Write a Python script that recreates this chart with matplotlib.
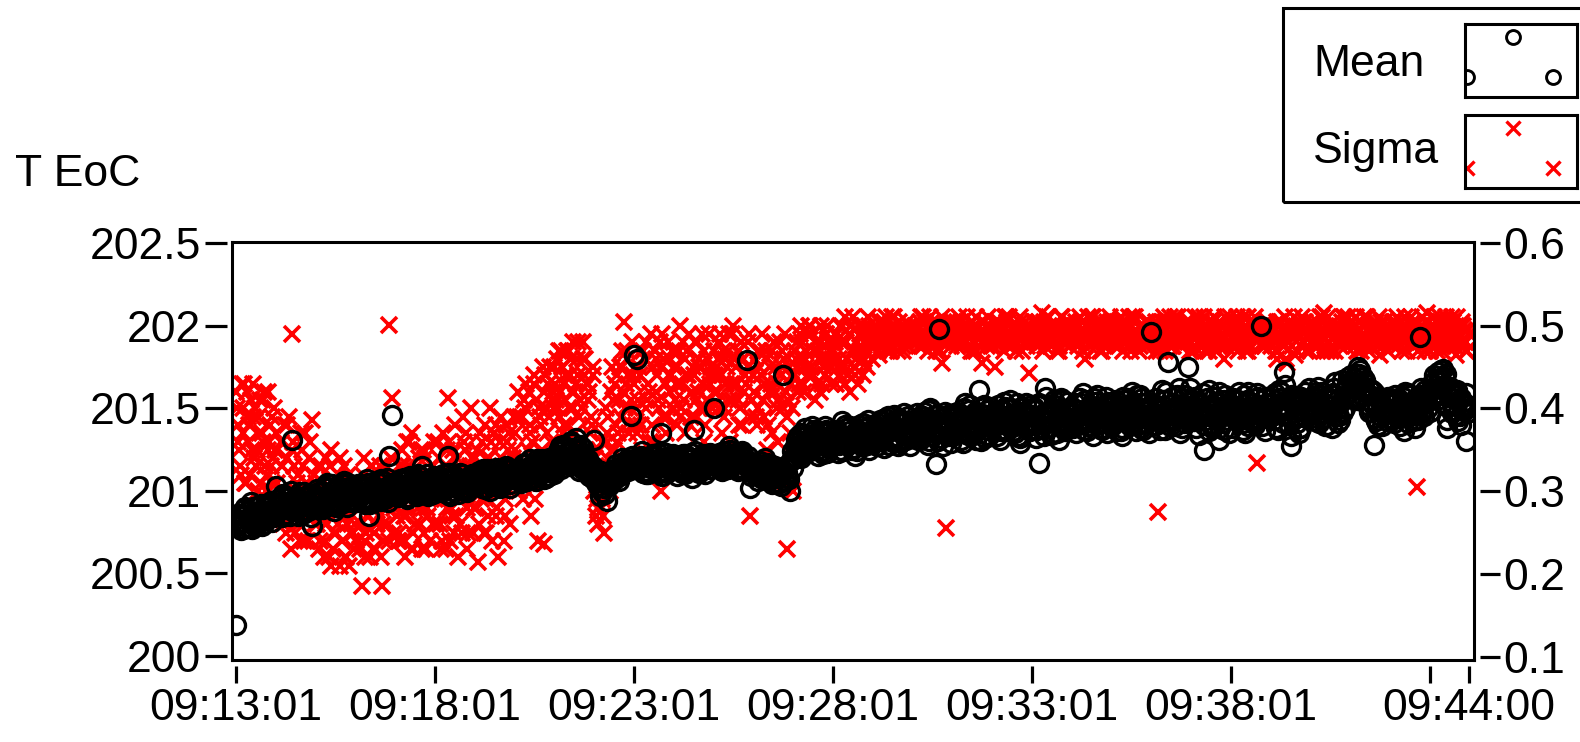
import numpy as np
import matplotlib
matplotlib.use("Agg")
import matplotlib.pyplot as plt
from matplotlib import font_manager
from matplotlib.patches import Rectangle

# ---------------- data ----------------
# One reading every 1.25 s starting at 09:13:01, stored as four interleaved
# lists: "_a" at 0, 5, 10 ... s, "_c" at 1.25, 6.25 ... s,
# "_b" at 2.5, 7.5 ... s and "_d" at 3.75, 8.75 ... s.
sample_step_s = 5
offsets_s = {"a": 0.0, "c": 1.25, "b": 2.5, "d": 3.75}

mean_T_a = [
    200.19, 200.80, 200.86, 200.78, 200.84, 200.90, 200.81, 200.87, 200.83, 200.91, 200.85, 200.89,
    201.03, 200.88, 200.94, 200.86, 200.92, 201.31, 200.89, 200.95, 200.90, 200.97, 200.93, 200.79,
    200.96, 200.91, 201.00, 200.94, 200.98, 201.04, 200.92, 200.99, 200.95, 201.02, 200.97, 200.93,
    201.00, 200.96, 201.03, 200.94, 200.85, 201.01, 200.97, 201.05, 200.99, 200.95, 201.21, 201.46,
    201.02, 200.98, 201.06, 201.00, 200.96, 201.04, 201.08, 200.99, 201.15, 201.03, 200.97, 201.05,
    201.01, 201.07, 200.99, 201.05, 201.21, 201.03, 201.09, 200.98, 201.06, 201.02, 201.08, 201.04,
    201.10, 201.04, 201.07, 201.01, 201.11, 201.05, 201.09, 201.03, 201.12, 201.06, 201.08, 201.13,
    201.07, 201.11, 201.05, 201.13, 201.09, 201.15, 201.08, 201.14, 201.10, 201.17, 201.12, 201.16,
    201.18, 201.24, 201.13, 201.27, 201.20, 201.30, 201.16, 201.25, 201.21, 201.14, 201.19, 201.11,
    201.31, 201.06, 201.12, 201.02, 200.94, 201.08, 201.13, 201.10, 201.17, 201.14, 201.19, 201.45,
    201.82, 201.80, 201.15, 201.20, 201.12, 201.18, 201.22, 201.14, 201.35, 201.17, 201.11, 201.21,
    201.16, 201.09, 201.19, 201.13, 201.21, 201.15, 201.37, 201.18, 201.12, 201.20, 201.16, 201.23,
    201.50, 201.17, 201.22, 201.14, 201.19, 201.25, 201.16, 201.21, 201.18, 201.13, 201.79, 201.02,
    201.15, 201.10, 201.18, 201.07, 201.13, 201.16, 201.09, 201.12, 201.05, 201.70, 201.11, 201.00,
    201.14, 201.22, 201.30, 201.26, 201.34, 201.24, 201.31, 201.28, 201.36, 201.22, 201.29, 201.33,
    201.27, 201.35, 201.30, 201.24, 201.38, 201.32, 201.26, 201.36, 201.29, 201.41, 201.31, 201.25,
    201.34, 201.39, 201.30, 201.42, 201.35, 201.28, 201.40, 201.33, 201.44, 201.37, 201.31, 201.38,
    201.36, 201.42, 201.33, 201.45, 201.39, 201.30, 201.43, 201.16, 201.98, 201.37, 201.41, 201.34,
    201.44, 201.38, 201.47, 201.35, 201.42, 201.49, 201.36, 201.43, 201.61, 201.39, 201.46, 201.33,
    201.41, 201.48, 201.37, 201.44, 201.51, 201.40, 201.46, 201.35, 201.43, 201.50, 201.38, 201.45,
    201.42, 201.49, 201.17, 201.44, 201.62, 201.38, 201.47, 201.52, 201.41, 201.46, 201.36, 201.50,
    201.44, 201.53, 201.40, 201.47, 201.55, 201.39, 201.48, 201.43, 201.51, 201.37, 201.46, 201.54,
    201.45, 201.41, 201.52, 201.38, 201.49, 201.56, 201.43, 201.47, 201.40, 201.53, 201.46, 201.50,
    201.96, 201.44, 201.51, 201.41, 201.55, 201.78, 201.47, 201.39, 201.52, 201.45, 201.58, 201.75,
    201.49, 201.42, 201.54, 201.46, 201.25, 201.51, 201.40, 201.57, 201.44, 201.50, 201.37, 201.53,
    201.47, 201.55, 201.42, 201.50, 201.58, 201.39, 201.48, 201.53, 201.44, 202.00, 201.51, 201.46,
    201.56, 201.43, 201.49, 201.60, 201.72, 201.45, 201.27, 201.52, 201.41, 201.57, 201.48, 201.54,
    201.44, 201.51, 201.58, 201.46, 201.53, 201.40, 201.55, 201.62, 201.49, 201.43, 201.57, 201.65,
    201.60, 201.68, 201.55, 201.73, 201.63, 201.52, 201.58, 201.28, 201.50, 201.45, 201.56, 201.42,
    201.53, 201.47, 201.55, 201.39, 201.51, 201.44, 201.58, 201.49, 201.46, 201.93, 201.52, 201.57,
    201.48, 201.61, 201.55, 201.66, 201.74, 201.38, 201.63, 201.52, 201.58, 201.45, 201.54, 201.30,
]

mean_T_b = [
    200.83, 200.76, 200.89, 200.82, 200.93, 200.79, 200.86, 200.92, 200.80, 200.88, 200.94, 200.84,
    200.91, 200.97, 200.85, 200.93, 201.00, 200.88, 200.96, 200.87, 200.99, 200.91, 200.84, 200.95,
    201.01, 200.90, 200.97, 201.05, 200.93, 200.88, 201.03, 200.96, 201.06, 200.90, 201.00, 200.97,
    200.93, 201.04, 200.98, 201.07, 200.92, 200.99, 201.06, 200.94, 201.02, 201.08, 200.97, 201.03,
    200.99, 201.07, 201.01, 200.95, 201.09, 201.03, 200.97, 201.06, 201.00, 201.10, 201.04, 200.98,
    201.06, 201.00, 201.10, 201.04, 200.97, 201.08, 201.02, 201.11, 201.05, 200.99, 201.09, 201.06,
    201.03, 201.09, 201.13, 201.06, 201.00, 201.10, 201.14, 201.02, 201.07, 201.15, 201.04, 201.09,
    201.12, 201.06, 201.16, 201.09, 201.19, 201.11, 201.06, 201.18, 201.13, 201.08, 201.20, 201.14,
    201.22, 201.15, 201.28, 201.19, 201.23, 201.17, 201.32, 201.12, 201.26, 201.18, 201.09, 201.15,
    201.05, 201.10, 200.99, 201.07, 201.03, 201.12, 201.16, 201.06, 201.20, 201.12, 201.15, 201.21,
    201.13, 201.19, 201.24, 201.10, 201.16, 201.21, 201.13, 201.19, 201.09, 201.23, 201.15, 201.18,
    201.20, 201.14, 201.11, 201.22, 201.17, 201.08, 201.24, 201.14, 201.19, 201.10, 201.21, 201.17,
    201.19, 201.23, 201.12, 201.20, 201.27, 201.15, 201.23, 201.12, 201.24, 201.17, 201.21, 201.11,
    201.17, 201.06, 201.14, 201.20, 201.09, 201.04, 201.15, 201.08, 201.13, 201.06, 201.16, 201.20,
    201.27, 201.33, 201.20, 201.38, 201.29, 201.25, 201.35, 201.21, 201.32, 201.39, 201.26, 201.30,
    201.36, 201.23, 201.33, 201.40, 201.28, 201.34, 201.21, 201.37, 201.31, 201.27, 201.43, 201.35,
    201.29, 201.41, 201.36, 201.26, 201.45, 201.32, 201.38, 201.27, 201.35, 201.47, 201.33, 201.40,
    201.43, 201.31, 201.38, 201.48, 201.28, 201.41, 201.35, 201.46, 201.32, 201.44, 201.37, 201.29,
    201.36, 201.45, 201.31, 201.50, 201.39, 201.33, 201.46, 201.40, 201.30, 201.52, 201.37, 201.44,
    201.47, 201.33, 201.42, 201.54, 201.36, 201.45, 201.39, 201.53, 201.32, 201.47, 201.41, 201.36,
    201.51, 201.37, 201.45, 201.33, 201.48, 201.43, 201.55, 201.35, 201.49, 201.40, 201.54, 201.44,
    201.38, 201.49, 201.56, 201.42, 201.36, 201.52, 201.45, 201.58, 201.41, 201.49, 201.35, 201.47,
    201.52, 201.36, 201.48, 201.57, 201.43, 201.39, 201.54, 201.46, 201.58, 201.37, 201.50, 201.44,
    201.48, 201.56, 201.37, 201.46, 201.60, 201.42, 201.53, 201.49, 201.35, 201.56, 201.43, 201.50,
    201.55, 201.38, 201.47, 201.59, 201.43, 201.36, 201.52, 201.47, 201.60, 201.41, 201.49, 201.35,
    201.52, 201.43, 201.60, 201.37, 201.46, 201.54, 201.41, 201.56, 201.48, 201.39, 201.57, 201.44,
    201.50, 201.38, 201.61, 201.46, 201.55, 201.40, 201.58, 201.44, 201.35, 201.53, 201.47, 201.62,
    201.49, 201.56, 201.41, 201.60, 201.47, 201.52, 201.38, 201.58, 201.45, 201.67, 201.50, 201.59,
    201.66, 201.56, 201.71, 201.62, 201.67, 201.48, 201.61, 201.44, 201.55, 201.39, 201.51, 201.47,
    201.43, 201.58, 201.50, 201.45, 201.60, 201.41, 201.54, 201.38, 201.56, 201.49, 201.61, 201.50,
    201.56, 201.67, 201.72, 201.58, 201.69, 201.51, 201.47, 201.60, 201.42, 201.56, 201.49, 201.52,
]

mean_T_c = [
    200.86, 200.81, 200.77, 200.88, 200.84, 200.80, 200.91, 200.86, 200.82, 200.90, 200.87, 200.93,
    200.87, 200.92, 200.98, 200.89, 200.85, 200.94, 200.90, 200.99, 200.86, 200.93, 200.97, 200.91,
    200.94, 200.99, 200.89, 201.02, 200.95, 201.00, 200.90, 200.97, 201.04, 200.93, 200.99, 201.03,
    200.97, 201.02, 200.95, 201.00, 201.05, 200.93, 201.01, 200.98, 201.06, 200.96, 201.03, 200.99,
    201.05, 200.97, 201.03, 201.08, 200.99, 201.05, 201.01, 201.09, 200.98, 201.04, 201.07, 201.01,
    201.03, 201.09, 201.02, 201.07, 201.11, 201.00, 201.06, 201.04, 201.10, 201.01, 201.05, 201.10,
    201.07, 201.12, 201.02, 201.09, 201.05, 201.13, 201.06, 201.11, 201.04, 201.10, 201.14, 201.07,
    201.09, 201.14, 201.08, 201.17, 201.11, 201.07, 201.16, 201.10, 201.19, 201.13, 201.09, 201.18,
    201.15, 201.21, 201.26, 201.17, 201.24, 201.29, 201.19, 201.22, 201.13, 201.17, 201.12, 201.08,
    201.09, 201.03, 201.06, 200.98, 201.05, 201.10, 201.07, 201.14, 201.11, 201.16, 201.12, 201.18,
    201.17, 201.13, 201.21, 201.16, 201.10, 201.19, 201.15, 201.23, 201.12, 201.16, 201.20, 201.14,
    201.13, 201.18, 201.15, 201.10, 201.19, 201.23, 201.12, 201.17, 201.21, 201.14, 201.18, 201.13,
    201.16, 201.20, 201.15, 201.24, 201.13, 201.18, 201.21, 201.17, 201.14, 201.20, 201.15, 201.09,
    201.12, 201.16, 201.08, 201.11, 201.17, 201.07, 201.13, 201.10, 201.03, 201.12, 201.08, 201.18,
    201.19, 201.26, 201.35, 201.23, 201.31, 201.27, 201.37, 201.25, 201.33, 201.28, 201.23, 201.36,
    201.30, 201.37, 201.25, 201.33, 201.29, 201.39, 201.34, 201.24, 201.32, 201.38, 201.28, 201.40,
    201.36, 201.27, 201.43, 201.33, 201.39, 201.30, 201.46, 201.36, 201.29, 201.42, 201.35, 201.27,
    201.40, 201.47, 201.31, 201.41, 201.36, 201.50, 201.33, 201.42, 201.38, 201.27, 201.46, 201.39,
    201.33, 201.48, 201.40, 201.29, 201.45, 201.52, 201.38, 201.31, 201.47, 201.42, 201.34, 201.51,
    201.38, 201.46, 201.31, 201.49, 201.42, 201.55, 201.36, 201.41, 201.29, 201.48, 201.53, 201.40,
    201.46, 201.32, 201.53, 201.40, 201.57, 201.43, 201.35, 201.49, 201.31, 201.55, 201.44, 201.39,
    201.50, 201.35, 201.45, 201.59, 201.41, 201.50, 201.33, 201.54, 201.44, 201.38, 201.57, 201.42,
    201.39, 201.55, 201.44, 201.33, 201.51, 201.47, 201.60, 201.36, 201.45, 201.56, 201.41, 201.35,
    201.53, 201.40, 201.49, 201.61, 201.37, 201.46, 201.57, 201.43, 201.62, 201.38, 201.52, 201.45,
    201.42, 201.57, 201.34, 201.50, 201.45, 201.61, 201.38, 201.54, 201.31, 201.48, 201.58, 201.43,
    201.38, 201.50, 201.55, 201.45, 201.35, 201.60, 201.51, 201.40, 201.57, 201.46, 201.36, 201.53,
    201.45, 201.59, 201.37, 201.52, 201.64, 201.49, 201.33, 201.55, 201.45, 201.38, 201.60, 201.51,
    201.55, 201.42, 201.63, 201.50, 201.39, 201.57, 201.47, 201.66, 201.41, 201.54, 201.61, 201.69,
    201.70, 201.62, 201.75, 201.58, 201.66, 201.55, 201.48, 201.60, 201.40, 201.53, 201.46, 201.57,
    201.49, 201.41, 201.56, 201.52, 201.36, 201.59, 201.47, 201.55, 201.43, 201.62, 201.45, 201.54,
    201.62, 201.70, 201.59, 201.73, 201.64, 201.43, 201.57, 201.49, 201.61, 201.40, 201.52, 201.47,
]

mean_T_d = [
    200.79, 200.85, 200.90, 200.83, 200.77, 200.87, 200.84, 200.79, 200.92, 200.85, 200.81, 200.88,
    200.95, 200.84, 200.90, 200.96, 200.88, 200.92, 200.85, 200.93, 200.97, 200.88, 200.95, 200.90,
    200.99, 200.95, 201.03, 200.91, 200.97, 200.94, 201.02, 200.92, 200.98, 201.05, 200.94, 200.99,
    201.04, 200.98, 200.92, 201.05, 200.99, 201.03, 200.95, 201.07, 201.00, 200.93, 201.05, 201.01,
    200.96, 201.03, 201.08, 201.00, 201.06, 200.98, 201.10, 201.02, 201.05, 200.99, 201.06, 201.09,
    201.00, 201.05, 201.08, 200.98, 201.04, 201.09, 201.02, 201.07, 201.00, 201.08, 201.03, 201.07,
    201.11, 201.05, 201.08, 201.13, 201.03, 201.07, 201.11, 201.05, 201.14, 201.08, 201.02, 201.11,
    201.13, 201.08, 201.12, 201.06, 201.15, 201.10, 201.19, 201.12, 201.07, 201.16, 201.14, 201.10,
    201.20, 201.27, 201.18, 201.23, 201.15, 201.26, 201.20, 201.28, 201.17, 201.11, 201.16, 201.13,
    201.07, 200.97, 201.09, 201.04, 201.08, 201.06, 201.14, 201.09, 201.13, 201.18, 201.16, 201.13,
    201.20, 201.16, 201.11, 201.18, 201.14, 201.22, 201.17, 201.11, 201.20, 201.14, 201.18, 201.22,
    201.18, 201.12, 201.22, 201.16, 201.13, 201.20, 201.16, 201.11, 201.22, 201.17, 201.13, 201.19,
    201.21, 201.14, 201.19, 201.16, 201.22, 201.18, 201.13, 201.19, 201.22, 201.15, 201.18, 201.13,
    201.10, 201.14, 201.11, 201.15, 201.06, 201.14, 201.11, 201.05, 201.10, 201.15, 201.07, 201.24,
    201.31, 201.21, 201.28, 201.33, 201.25, 201.39, 201.30, 201.34, 201.24, 201.37, 201.31, 201.27,
    201.33, 201.28, 201.42, 201.30, 201.36, 201.25, 201.32, 201.40, 201.27, 201.35, 201.30, 201.37,
    201.40, 201.33, 201.31, 201.44, 201.28, 201.37, 201.43, 201.31, 201.41, 201.34, 201.45, 201.32,
    201.34, 201.44, 201.40, 201.35, 201.49, 201.37, 201.46, 201.30, 201.41, 201.48, 201.33, 201.44,
    201.47, 201.35, 201.43, 201.53, 201.34, 201.41, 201.48, 201.37, 201.44, 201.32, 201.49, 201.40,
    201.44, 201.52, 201.36, 201.45, 201.39, 201.50, 201.43, 201.33, 201.51, 201.40, 201.46, 201.52,
    201.40, 201.52, 201.38, 201.47, 201.42, 201.34, 201.50, 201.44, 201.56, 201.38, 201.47, 201.42,
    201.47, 201.41, 201.53, 201.37, 201.49, 201.44, 201.56, 201.40, 201.48, 201.52, 201.43, 201.39,
    201.48, 201.43, 201.36, 201.55, 201.46, 201.41, 201.50, 201.58, 201.38, 201.49, 201.54, 201.42,
    201.46, 201.52, 201.43, 201.55, 201.49, 201.39, 201.50, 201.58, 201.46, 201.41, 201.54, 201.62,
    201.51, 201.45, 201.53, 201.40, 201.56, 201.49, 201.44, 201.51, 201.38, 201.55, 201.46, 201.52,
    201.56, 201.45, 201.49, 201.41, 201.55, 201.47, 201.43, 201.59, 201.50, 201.44, 201.53, 201.48,
    201.53, 201.47, 201.56, 201.41, 201.51, 201.57, 201.43, 201.49, 201.38, 201.55, 201.44, 201.52,
    201.47, 201.60, 201.52, 201.44, 201.57, 201.49, 201.59, 201.45, 201.53, 201.48, 201.63, 201.56,
    201.63, 201.71, 201.65, 201.69, 201.59, 201.62, 201.52, 201.42, 201.57, 201.49, 201.54, 201.44,
    201.55, 201.50, 201.44, 201.57, 201.48, 201.53, 201.42, 201.51, 201.58, 201.47, 201.55, 201.60,
    201.65, 201.58, 201.68, 201.62, 201.71, 201.57, 201.53, 201.46, 201.55, 201.50, 201.59, 201.48,
]

sigma_a = [
    0.42, 0.35, 0.40, 0.31, 0.38, 0.43, 0.33, 0.37, 0.41, 0.30, 0.36, 0.39,
    0.37, 0.28, 0.33, 0.25, 0.39, 0.49, 0.30, 0.26, 0.35, 0.29, 0.34, 0.386,
    0.31, 0.23, 0.27, 0.34, 0.22, 0.29, 0.25, 0.32, 0.24, 0.28, 0.21, 0.30,
    0.26, 0.31, 0.186, 0.24, 0.29, 0.33, 0.23, 0.27, 0.186, 0.30, 0.501, 0.413,
    0.32, 0.25, 0.35, 0.22, 0.28, 0.37, 0.26, 0.31, 0.23, 0.34, 0.27, 0.30,
    0.29, 0.36, 0.24, 0.33, 0.413, 0.27, 0.38, 0.22, 0.31, 0.35, 0.25, 0.40,
    0.34, 0.215, 0.30, 0.38, 0.27, 0.36, 0.32, 0.22, 0.39, 0.29, 0.35, 0.31,
    0.37, 0.42, 0.33, 0.40, 0.35, 0.27, 0.44, 0.24, 0.38, 0.236, 0.43, 0.36,
    0.45, 0.40, 0.47, 0.43, 0.38, 0.46, 0.42, 0.48, 0.36, 0.44, 0.41, 0.39,
    0.30, 0.26, 0.33, 0.25, 0.37, 0.42, 0.35, 0.44, 0.39, 0.504, 0.46, 0.41,
    0.43, 0.37, 0.47, 0.33, 0.41, 0.49, 0.36, 0.44, 0.30, 0.46, 0.39, 0.42,
    0.45, 0.38, 0.50, 0.41, 0.47, 0.34, 0.44, 0.48, 0.40, 0.36, 0.46, 0.43,
    0.47, 0.42, 0.49, 0.39, 0.45, 0.36, 0.50, 0.43, 0.40, 0.46, 0.33, 0.27,
    0.44, 0.38, 0.47, 0.41, 0.35, 0.45, 0.31, 0.43, 0.48, 0.40, 0.23, 0.37,
    0.30, 0.45, 0.49, 0.43, 0.47, 0.50, 0.44, 0.48, 0.42, 0.46, 0.49, 0.45,
    0.47, 0.43, 0.50, 0.45, 0.48, 0.42, 0.51, 0.46, 0.49, 0.44, 0.47, 0.50,
    0.48, 0.50, 0.465, 0.49, 0.51, 0.475, 0.495, 0.48, 0.505, 0.47, 0.49, 0.50,
    0.485, 0.50, 0.475, 0.51, 0.49, 0.48, 0.505, 0.47, 0.495, 0.455, 0.255, 0.49,
    0.50, 0.48, 0.51, 0.475, 0.495, 0.485, 0.505, 0.47, 0.49, 0.455, 0.50, 0.48,
    0.495, 0.45, 0.505, 0.48, 0.49, 0.51, 0.475, 0.50, 0.485, 0.47, 0.495, 0.443,
    0.49, 0.505, 0.48, 0.515, 0.475, 0.50, 0.485, 0.495, 0.47, 0.51, 0.48, 0.50,
    0.485, 0.50, 0.475, 0.505, 0.46, 0.49, 0.51, 0.48, 0.495, 0.47, 0.50, 0.485,
    0.50, 0.475, 0.49, 0.505, 0.48, 0.495, 0.47, 0.51, 0.485, 0.50, 0.475, 0.49,
    0.495, 0.48, 0.275, 0.505, 0.47, 0.49, 0.50, 0.485, 0.51, 0.475, 0.495, 0.48,
    0.50, 0.47, 0.49, 0.505, 0.48, 0.495, 0.475, 0.51, 0.485, 0.50, 0.46, 0.49,
    0.48, 0.505, 0.47, 0.495, 0.485, 0.51, 0.475, 0.50, 0.334, 0.49, 0.48, 0.50,
    0.475, 0.495, 0.46, 0.505, 0.485, 0.455, 0.49, 0.51, 0.47, 0.50, 0.48, 0.495,
    0.49, 0.475, 0.505, 0.48, 0.515, 0.47, 0.495, 0.485, 0.50, 0.475, 0.51, 0.49,
    0.48, 0.50, 0.47, 0.495, 0.485, 0.51, 0.475, 0.50, 0.49, 0.465, 0.505, 0.48,
    0.495, 0.475, 0.51, 0.485, 0.50, 0.47, 0.49, 0.505, 0.305, 0.48, 0.495, 0.515,
    0.47, 0.50, 0.485, 0.51, 0.475, 0.495, 0.48, 0.505, 0.465, 0.49, 0.50, 0.48,
]

sigma_b = [
    0.38, 0.32, 0.43, 0.36, 0.41, 0.34, 0.39, 0.31, 0.42, 0.35, 0.33, 0.40,
    0.31, 0.36, 0.27, 0.38, 0.23, 0.33, 0.29, 0.37, 0.24, 0.31, 0.27, 0.32,
    0.26, 0.33, 0.22, 0.30, 0.35, 0.25, 0.28, 0.21, 0.33, 0.26, 0.31, 0.23,
    0.29, 0.23, 0.34, 0.27, 0.22, 0.31, 0.26, 0.33, 0.24, 0.28, 0.32, 0.25,
    0.27, 0.33, 0.24, 0.36, 0.29, 0.23, 0.32, 0.26, 0.35, 0.28, 0.24, 0.33,
    0.32, 0.26, 0.37, 0.28, 0.24, 0.35, 0.30, 0.26, 0.39, 0.28, 0.33, 0.25,
    0.28, 0.37, 0.33, 0.25, 0.40, 0.31, 0.27, 0.36, 0.30, 0.38, 0.26, 0.34,
    0.32, 0.39, 0.29, 0.43, 0.37, 0.31, 0.41, 0.34, 0.45, 0.40, 0.33, 0.42,
    0.41, 0.47, 0.37, 0.44, 0.40, 0.48, 0.43, 0.39, 0.46, 0.35, 0.42, 0.45,
    0.27, 0.35, 0.29, 0.40, 0.33, 0.45, 0.38, 0.41, 0.47, 0.43, 0.37, 0.48,
    0.40, 0.45, 0.35, 0.48, 0.42, 0.38, 0.46, 0.40, 0.49, 0.37, 0.44, 0.47,
    0.41, 0.47, 0.43, 0.37, 0.49, 0.42, 0.39, 0.45, 0.49, 0.38, 0.44, 0.40,
    0.44, 0.48, 0.37, 0.46, 0.41, 0.49, 0.43, 0.47, 0.38, 0.44, 0.48, 0.41,
    0.46, 0.40, 0.49, 0.43, 0.38, 0.47, 0.42, 0.36, 0.45, 0.49, 0.41, 0.44,
    0.47, 0.42, 0.50, 0.46, 0.44, 0.49, 0.41, 0.47, 0.50, 0.44, 0.48, 0.43,
    0.49, 0.45, 0.48, 0.51, 0.44, 0.50, 0.47, 0.43, 0.49, 0.46, 0.51, 0.48,
    0.49, 0.47, 0.505, 0.48, 0.495, 0.47, 0.51, 0.485, 0.49, 0.50, 0.475, 0.49,
    0.495, 0.48, 0.51, 0.49, 0.47, 0.50, 0.485, 0.505, 0.48, 0.495, 0.49, 0.475,
    0.49, 0.505, 0.48, 0.495, 0.51, 0.47, 0.50, 0.485, 0.49, 0.505, 0.475, 0.495,
    0.48, 0.50, 0.49, 0.47, 0.505, 0.485, 0.495, 0.48, 0.51, 0.49, 0.475, 0.50,
    0.505, 0.475, 0.495, 0.49, 0.51, 0.48, 0.50, 0.47, 0.495, 0.485, 0.505, 0.475,
    0.495, 0.48, 0.51, 0.49, 0.50, 0.475, 0.495, 0.505, 0.47, 0.49, 0.485, 0.51,
    0.48, 0.505, 0.495, 0.47, 0.50, 0.485, 0.51, 0.49, 0.475, 0.495, 0.505, 0.48,
    0.49, 0.505, 0.47, 0.495, 0.485, 0.51, 0.475, 0.50, 0.49, 0.48, 0.505, 0.47,
    0.485, 0.50, 0.51, 0.475, 0.495, 0.47, 0.505, 0.49, 0.48, 0.50, 0.475, 0.495,
    0.50, 0.475, 0.49, 0.51, 0.47, 0.495, 0.505, 0.485, 0.49, 0.475, 0.505, 0.48,
    0.49, 0.47, 0.505, 0.48, 0.46, 0.495, 0.475, 0.50, 0.485, 0.51, 0.47, 0.49,
    0.505, 0.48, 0.49, 0.51, 0.475, 0.50, 0.485, 0.47, 0.495, 0.505, 0.48, 0.50,
    0.49, 0.475, 0.505, 0.48, 0.50, 0.47, 0.495, 0.485, 0.51, 0.48, 0.49, 0.50,
    0.48, 0.505, 0.49, 0.47, 0.51, 0.485, 0.50, 0.475, 0.495, 0.51, 0.47, 0.49,
    0.50, 0.48, 0.495, 0.47, 0.505, 0.485, 0.51, 0.475, 0.49, 0.50, 0.48, 0.495,
]

sigma_c = [
    0.40, 0.33, 0.37, 0.42, 0.32, 0.39, 0.35, 0.41, 0.36, 0.32, 0.38, 0.34,
    0.35, 0.30, 0.26, 0.34, 0.28, 0.36, 0.31, 0.24, 0.33, 0.27, 0.36, 0.29,
    0.28, 0.24, 0.31, 0.26, 0.33, 0.23, 0.29, 0.34, 0.27, 0.22, 0.30, 0.25,
    0.24, 0.28, 0.32, 0.25, 0.30, 0.23, 0.28, 0.31, 0.26, 0.33, 0.24, 0.29,
    0.30, 0.24, 0.33, 0.27, 0.36, 0.25, 0.30, 0.34, 0.28, 0.23, 0.32, 0.26,
    0.26, 0.34, 0.29, 0.23, 0.36, 0.31, 0.27, 0.33, 0.25, 0.37, 0.30, 0.34,
    0.31, 0.26, 0.36, 0.29, 0.34, 0.24, 0.38, 0.30, 0.33, 0.27, 0.37, 0.32,
    0.35, 0.30, 0.39, 0.33, 0.42, 0.36, 0.29, 0.40, 0.35, 0.44, 0.39, 0.41,
    0.43, 0.39, 0.45, 0.41, 0.47, 0.42, 0.37, 0.44, 0.40, 0.46, 0.43, 0.38,
    0.34, 0.28, 0.36, 0.31, 0.39, 0.35, 0.43, 0.37, 0.45, 0.40, 0.44, 0.38,
    0.45, 0.41, 0.38, 0.46, 0.43, 0.35, 0.47, 0.41, 0.45, 0.39, 0.48, 0.44,
    0.47, 0.43, 0.40, 0.46, 0.44, 0.39, 0.48, 0.42, 0.45, 0.47, 0.41, 0.45,
    0.42, 0.46, 0.44, 0.40, 0.47, 0.43, 0.46, 0.41, 0.48, 0.42, 0.45, 0.39,
    0.42, 0.47, 0.44, 0.39, 0.46, 0.43, 0.48, 0.40, 0.44, 0.46, 0.39, 0.43,
    0.44, 0.48, 0.46, 0.42, 0.49, 0.45, 0.47, 0.43, 0.48, 0.45, 0.50, 0.47,
    0.46, 0.49, 0.44, 0.48, 0.46, 0.50, 0.45, 0.48, 0.47, 0.50, 0.45, 0.49,
    0.475, 0.495, 0.48, 0.505, 0.47, 0.49, 0.50, 0.48, 0.495, 0.475, 0.505, 0.485,
    0.48, 0.495, 0.505, 0.475, 0.49, 0.51, 0.48, 0.495, 0.47, 0.50, 0.485, 0.505,
    0.505, 0.475, 0.49, 0.50, 0.48, 0.495, 0.47, 0.51, 0.485, 0.495, 0.48, 0.50,
    0.475, 0.49, 0.50, 0.485, 0.51, 0.48, 0.495, 0.47, 0.505, 0.485, 0.50, 0.48,
    0.495, 0.48, 0.505, 0.47, 0.49, 0.51, 0.485, 0.50, 0.475, 0.495, 0.48, 0.505,
    0.48, 0.505, 0.49, 0.47, 0.50, 0.485, 0.51, 0.475, 0.495, 0.505, 0.48, 0.49,
    0.505, 0.49, 0.475, 0.50, 0.485, 0.51, 0.48, 0.495, 0.47, 0.50, 0.49, 0.505,
    0.485, 0.47, 0.50, 0.48, 0.505, 0.49, 0.475, 0.51, 0.495, 0.485, 0.50, 0.49,
    0.49, 0.51, 0.48, 0.495, 0.47, 0.505, 0.485, 0.50, 0.475, 0.49, 0.51, 0.48,
    0.475, 0.49, 0.505, 0.48, 0.50, 0.47, 0.49, 0.51, 0.485, 0.495, 0.475, 0.505,
    0.50, 0.485, 0.47, 0.495, 0.51, 0.48, 0.50, 0.465, 0.49, 0.475, 0.505, 0.485,
    0.48, 0.50, 0.475, 0.495, 0.485, 0.51, 0.47, 0.50, 0.48, 0.495, 0.485, 0.51,
    0.505, 0.485, 0.495, 0.47, 0.51, 0.48, 0.50, 0.49, 0.475, 0.505, 0.485, 0.47,
    0.49, 0.50, 0.475, 0.505, 0.48, 0.495, 0.51, 0.485, 0.47, 0.50, 0.485, 0.505,
    0.485, 0.51, 0.47, 0.495, 0.49, 0.505, 0.475, 0.49, 0.51, 0.48, 0.495, 0.47,
]

sigma_d = [
    0.36, 0.43, 0.31, 0.39, 0.35, 0.40, 0.30, 0.37, 0.33, 0.42, 0.31, 0.35,
    0.28, 0.33, 0.38, 0.29, 0.35, 0.25, 0.32, 0.28, 0.37, 0.24, 0.30, 0.26,
    0.33, 0.27, 0.24, 0.29, 0.21, 0.31, 0.26, 0.28, 0.22, 0.32, 0.25, 0.29,
    0.31, 0.26, 0.22, 0.29, 0.33, 0.25, 0.31, 0.22, 0.29, 0.26, 0.34, 0.28,
    0.24, 0.30, 0.27, 0.33, 0.23, 0.31, 0.28, 0.35, 0.25, 0.31, 0.29, 0.36,
    0.30, 0.23, 0.32, 0.35, 0.28, 0.25, 0.34, 0.29, 0.36, 0.23, 0.32, 0.28,
    0.35, 0.29, 0.25, 0.34, 0.31, 0.37, 0.28, 0.34, 0.24, 0.36, 0.31, 0.39,
    0.39, 0.34, 0.41, 0.31, 0.38, 0.43, 0.34, 0.39, 0.42, 0.37, 0.45, 0.40,
    0.46, 0.42, 0.38, 0.47, 0.44, 0.40, 0.46, 0.41, 0.48, 0.43, 0.37, 0.44,
    0.29, 0.32, 0.27, 0.36, 0.30, 0.41, 0.36, 0.45, 0.42, 0.47, 0.40, 0.44,
    0.38, 0.44, 0.47, 0.40, 0.36, 0.45, 0.42, 0.48, 0.39, 0.43, 0.46, 0.40,
    0.43, 0.39, 0.48, 0.44, 0.38, 0.45, 0.41, 0.46, 0.43, 0.40, 0.49, 0.44,
    0.45, 0.40, 0.47, 0.43, 0.49, 0.41, 0.45, 0.38, 0.46, 0.43, 0.49, 0.44,
    0.39, 0.45, 0.41, 0.47, 0.42, 0.37, 0.45, 0.41, 0.47, 0.42, 0.45, 0.40,
    0.46, 0.43, 0.48, 0.45, 0.50, 0.44, 0.48, 0.46, 0.43, 0.49, 0.46, 0.48,
    0.48, 0.46, 0.50, 0.43, 0.49, 0.47, 0.44, 0.50, 0.46, 0.48, 0.49, 0.46,
    0.485, 0.505, 0.475, 0.495, 0.48, 0.51, 0.49, 0.47, 0.50, 0.485, 0.495, 0.48,
    0.50, 0.485, 0.49, 0.505, 0.48, 0.495, 0.475, 0.49, 0.51, 0.48, 0.50, 0.485,
    0.485, 0.49, 0.505, 0.48, 0.50, 0.475, 0.495, 0.49, 0.505, 0.48, 0.51, 0.475,
    0.505, 0.48, 0.495, 0.51, 0.475, 0.49, 0.50, 0.485, 0.49, 0.505, 0.48, 0.495,
    0.48, 0.495, 0.49, 0.505, 0.485, 0.475, 0.50, 0.49, 0.51, 0.48, 0.495, 0.485,
    0.50, 0.49, 0.48, 0.495, 0.51, 0.48, 0.49, 0.50, 0.485, 0.475, 0.505, 0.495,
    0.49, 0.48, 0.51, 0.485, 0.495, 0.475, 0.505, 0.48, 0.50, 0.485, 0.475, 0.50,
    0.50, 0.495, 0.485, 0.51, 0.48, 0.475, 0.505, 0.49, 0.48, 0.50, 0.485, 0.505,
    0.475, 0.495, 0.49, 0.51, 0.485, 0.48, 0.495, 0.47, 0.505, 0.485, 0.495, 0.51,
    0.495, 0.51, 0.48, 0.49, 0.475, 0.505, 0.485, 0.49, 0.50, 0.48, 0.495, 0.485,
    0.485, 0.505, 0.49, 0.475, 0.495, 0.50, 0.485, 0.49, 0.505, 0.48, 0.495, 0.47,
    0.495, 0.485, 0.51, 0.47, 0.50, 0.49, 0.505, 0.48, 0.49, 0.51, 0.475, 0.495,
    0.48, 0.51, 0.485, 0.50, 0.475, 0.495, 0.485, 0.505, 0.495, 0.475, 0.50, 0.49,
    0.505, 0.485, 0.495, 0.48, 0.50, 0.49, 0.475, 0.50, 0.485, 0.49, 0.505, 0.48,
    0.495, 0.475, 0.505, 0.485, 0.51, 0.48, 0.495, 0.50, 0.485, 0.505, 0.47, 0.49,
]

x_tick_seconds = [0, 300, 600, 900, 1200, 1500, 1800, 1859]
x_tick_labels = ["09:13:01", "09:18:01", "09:23:01", "09:28:01",
                 "09:33:01", "09:38:01", "", "09:44:00"]
left_ticks = [200, 200.5, 201, 201.5, 202, 202.5]
left_tick_labels = ["200", "200.5", "201", "201.5", "202", "202.5"]
right_ticks = [0.1, 0.2, 0.3, 0.4, 0.5, 0.6]
right_tick_labels = ["0.1", "0.2", "0.3", "0.4", "0.5", "0.6"]
y_title = "T EoC"
legend_names = ["Mean", "Sigma"]

mean_series = {"a": mean_T_a, "b": mean_T_b, "c": mean_T_c, "d": mean_T_d}
sigma_series = {"a": sigma_a, "b": sigma_b, "c": sigma_c, "d": sigma_d}

# ---------------- styling ----------------
W, H = 1580, 742
names = {f.name for f in font_manager.fontManager.ttflist}
if "Liberation Sans Narrow" in names:
    fam, fs = "Liberation Sans Narrow", 38
else:
    fam, fs = "Liberation Sans", 32
plt.rcParams["font.family"] = [fam, "DejaVu Sans"]

fig = plt.figure(figsize=(W / 100, H / 100), dpi=100)
fig.patch.set_facecolor("white")

ax_rect = [231.7 / W, 1 - 660 / H, (1474 - 231.7) / W, (660 - 242) / H]
ax = fig.add_axes(ax_rect)
ax2 = ax.twinx()
ax.set_zorder(ax2.get_zorder() + 1)
ax.patch.set_visible(False)

red_style = dict(linestyle="none", marker="x", color="#ff0000",
                 markersize=12, markeredgewidth=2.6)
black_style = dict(linestyle="none", marker="o", markerfacecolor="none",
                   markeredgecolor="black", markersize=13, markeredgewidth=2.4)

for key in ["d", "b", "c", "a"]:
    vals = sigma_series[key]
    t = np.arange(len(vals)) * sample_step_s + offsets_s[key]
    ax2.plot(t, vals, **red_style)
for key in ["d", "b", "c", "a"]:
    vals = mean_series[key]
    t = np.arange(len(vals)) * sample_step_s + offsets_s[key]
    ax.plot(t, vals, **black_style)

ax.set_xlim(-6.5, 1866.4)
ax.set_ylim(199.976, 202.506)
ax2.set_ylim(0.096, 0.6012)

for s in ax.spines.values():
    s.set_linewidth(2.2)
for s in ax2.spines.values():
    s.set_visible(False)

ax.tick_params(bottom=False, labelbottom=False, left=False, labelleft=False)
ax2.tick_params(right=False, labelright=False)

tick_w = 2.3
secx = ax.secondary_xaxis(-6 / 418)
secx.set_xticks(x_tick_seconds, x_tick_labels)
secx.tick_params(direction="out", length=12.5, width=tick_w, pad=3.5, labelsize=fs)
for s in secx.spines.values():
    s.set_visible(False)

secl = ax.secondary_yaxis(-5 / 1242)
secl.set_yticks(left_ticks, left_tick_labels)
secl.tick_params(direction="out", length=15.5, width=tick_w, pad=3.0, labelsize=fs)
for s in secl.spines.values():
    s.set_visible(False)

secr = ax2.secondary_yaxis(1 + 6 / 1242)
secr.set_yticks(right_ticks, right_tick_labels)
secr.tick_params(direction="out", length=14.5, width=tick_w, pad=2.0, labelsize=fs)
for s in secr.spines.values():
    s.set_visible(False)

fig.text(15 / W, 1 - 186 / H, y_title, fontsize=fs, va="baseline", ha="left")

# ---------------- legend (outside, top right) ----------------
fig.patches.append(Rectangle((1283 / W, 1 - 202 / H), (1590 - 1283) / W, (202 - 8) / H,
                             transform=fig.transFigure, fill=False, lw=2.2,
                             ec="black", zorder=5, clip_on=False))
fig.text(1313 / W, 1 - 76 / H, legend_names[0], fontsize=fs, va="baseline")
fig.text(1313 / W, 1 - 163 / H, legend_names[1], fontsize=fs, va="baseline")

glyph_x = [0.02, 0.43, 0.79]
glyph_y = [0.27, 0.82, 0.27]
lax1 = fig.add_axes([1465 / W, 1 - 97 / H, 112 / W, 73 / H])
lax2 = fig.add_axes([1465 / W, 1 - 188 / H, 112 / W, 73 / H])
for lax in (lax1, lax2):
    lax.set_xlim(0, 1)
    lax.set_ylim(0, 1)
    lax.set_xticks([])
    lax.set_yticks([])
    for s in lax.spines.values():
        s.set_linewidth(2.2)
lax1.plot(glyph_x, glyph_y, linestyle="none", marker="o", markerfacecolor="none",
          markeredgecolor="black", markersize=10, markeredgewidth=2.1)
lax2.plot(glyph_x, glyph_y, linestyle="none", marker="x", color="#ff0000",
          markersize=10.5, markeredgewidth=2.4)

fig.savefig("out.png", dpi=100, facecolor="white")
